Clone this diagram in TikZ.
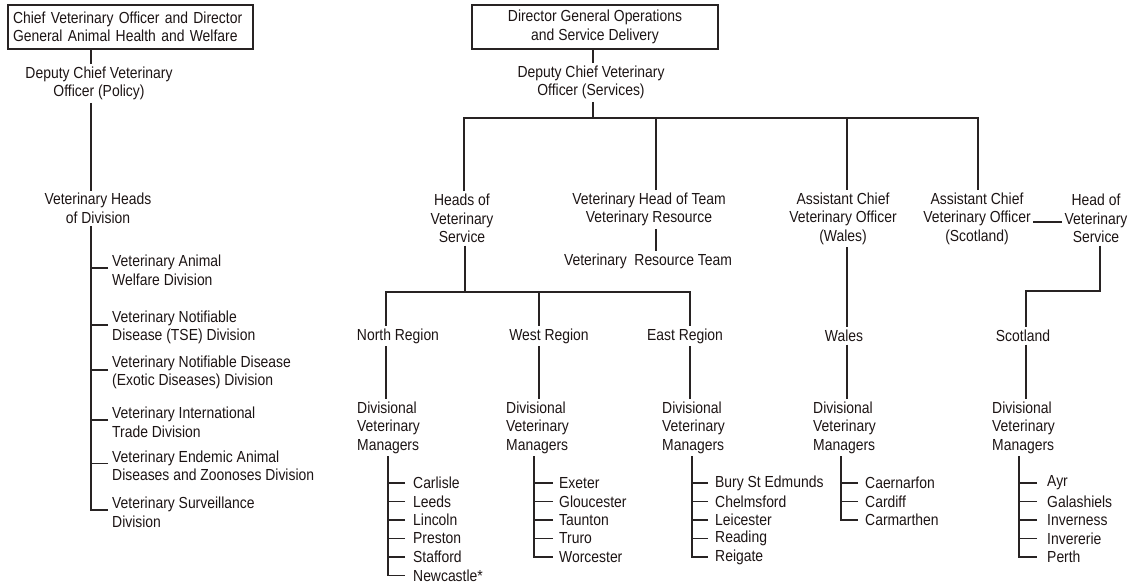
\documentclass[tikz,border=0pt]{standalone}
\usepackage{fontspec}
\setmainfont{Liberation Sans}[FakeStretch=0.87]
\definecolor{txt}{RGB}{28,20,20}
\definecolor{ln}{RGB}{40,35,35}
\begin{document}
\begin{tikzpicture}[x=1pt,y=-1pt]
\tikzset{
  lbl/.style={inner sep=2.5pt, align=center, text=txt, font=\fontsize{16}{18.5}\selectfont},
  lbll/.style={lbl, align=left, anchor=west, inner xsep=0pt},
  bx/.style={lbl, draw=ln, line width=1.2pt, minimum height=44pt},
  conn/.style={draw=ln, line width=1.2pt}
}
\useasboundingbox (0,0) rectangle (1131,587);

% ---------------- left column ----------------
\node[bx, text width=235pt, align=left, inner xsep=5pt] (box1) at (130.5,27) {Chief Veterinary Officer and Director\\General Animal Health and Welfare};
\node[lbl] (dcvoP) at (99,83.5) {Deputy Chief Veterinary\\Officer (Policy)};
\node[lbl] (vhod) at (98,208.5) {Veterinary Heads\\of Division};
\node[lbll] (d1) at (112,270.5) {Veterinary Animal\\Welfare Division};
\node[lbll] (d2) at (112,327.5) {Veterinary Notifiable\\Disease (TSE) Division};
\node[lbll] (d3) at (112,372.5) {Veterinary Notifiable Disease\\(Exotic Diseases) Division};
\node[lbll] (d4) at (112,422.5) {Veterinary International\\Trade Division};
\node[lbll] (d5) at (112,466) {Veterinary Endemic Animal\\Diseases and Zoonoses Division};
\node[lbll] (d6) at (112,512.5) {Veterinary Surveillance\\Division};

\coordinate (xL) at (91,0);
\draw[conn] (box1.south -| xL) -- (dcvoP.north -| xL);
\draw[conn] (dcvoP.south -| xL) -- (vhod.north -| xL);
\draw[conn] (vhod.south -| xL) |- ([yshift=2.5pt,xshift=-4pt]d6.west);
\foreach \n in {d1,d2,d3,d4,d5}
  \draw[conn] ([yshift=2.5pt,xshift=-4pt]\n.west) -- ([yshift=2.5pt]\n.west -| xL);

% ---------------- right part ----------------
\node[bx, minimum width=246pt] (box2) at (595,27) {Director General Operations\\and Service Delivery};
\node[lbl] (dcvoS) at (591,82.5) {Deputy Chief Veterinary\\Officer (Services)};
\node[lbl] (hvs) at (462,218.5) {Heads of\\Veterinary\\Service};
\node[lbl] (vhtr) at (649,209.5) {Veterinary Head of Team\\Veterinary Resource};
\node[lbl] (vrt) at (648,261) {Veterinary\ \ Resource Team};
\node[lbl] (acvoW) at (843,218.5) {Assistant Chief\\Veterinary Officer\\(Wales)};
\node[lbl] (acvoS) at (977,218.5) {Assistant Chief\\Veterinary Officer\\(Scotland)};
\node[lbl] (hvs2) at (1096,218.5) {Head of\\Veterinary\\Service};

\node[lbl] (north) at (398,336) {North Region};
\node[lbl] (west) at (549,336) {West Region};
\node[lbl] (east) at (685,336) {East Region};
\node[lbl] (wales) at (844,336) {Wales};
\node[lbl] (scot) at (1023,336) {Scotland};

\node[lbll] (dvmN) at (357,427.5) {Divisional\\Veterinary\\Managers};
\node[lbll] (dvmW) at (506,427.5) {Divisional\\Veterinary\\Managers};
\node[lbll] (dvmE) at (662,427.5) {Divisional\\Veterinary\\Managers};
\node[lbll] (dvmWa) at (813,427.5) {Divisional\\Veterinary\\Managers};
\node[lbll] (dvmS) at (992,427.5) {Divisional\\Veterinary\\Managers};

% city lists
\foreach \c [count=\i] in {Carlisle,Leeds,Lincoln,Preston,Stafford,Newcastle*}
  \node[lbll] (N\i) at (413,{483+(\i-1)*18.5}) {\c};
\foreach \c [count=\i] in {Exeter,Gloucester,Taunton,Truro,Worcester}
  \node[lbll] (W\i) at (559,{483+(\i-1)*18.5}) {\c};
\foreach \c [count=\i] in {Bury St Edmunds,Chelmsford,Leicester,Reading,Reigate}
  \node[lbll] (E\i) at (715,{483+(\i-1)*18.5}) {\c};
\foreach \c [count=\i] in {Caernarfon,Cardiff,Carmarthen}
  \node[lbll] (C\i) at (865,{483+(\i-1)*18.5}) {\c};
\foreach \c [count=\i] in {Ayr,Galashiels,Inverness,Invererie,Perth}
  \node[lbll] (S\i) at (1047,{483+(\i-1)*18.5}) {\c};

% reference coordinates
\coordinate (xA) at (593,0);
\coordinate (yBar) at (0,118);
\coordinate (xH) at (464,0);
\coordinate (xV) at (656,0);
\coordinate (xW) at (847,0);
\coordinate (xS) at (978,0);
\coordinate (xH2) at (465,0);
\coordinate (yBar2) at (0,292);
\coordinate (xN) at (386,0);
\coordinate (xWe) at (539,0);
\coordinate (xE) at (690,0);
\coordinate (yHS) at (0,222);
\coordinate (xHS) at (1100,0);
\coordinate (yBar3) at (0,291);
\coordinate (xSc) at (1026,0);

\draw[conn] (box2.south -| xA) -- (dcvoS.north -| xA);
\draw[conn] (dcvoS.south -| xA) -- (xA |- yBar);
\draw[conn] (hvs.north -| xH) -- (xH |- yBar) -- (xS |- yBar) -- (acvoS.north -| xS);
\draw[conn] (vhtr.north -| xV) -- (xV |- yBar);
\draw[conn] (acvoW.north -| xW) -- (xW |- yBar);
\draw[conn] (vhtr.south -| xV) -- (vrt.north -| xV);

\draw[conn] (hvs.south -| xH2) -- (xH2 |- yBar2);
\draw[conn] (north.north -| xN) -- (xN |- yBar2) -- (xE |- yBar2) -- (east.north -| xE);
\draw[conn] (west.north -| xWe) -- (xWe |- yBar2);
\draw[conn] (north.south -| xN) -- (dvmN.north -| xN);
\draw[conn] (west.south -| xWe) -- (dvmW.north -| xWe);
\draw[conn] (east.south -| xE) -- (dvmE.north -| xE);

\draw[conn] (acvoW.south -| xW) -- (wales.north -| xW);
\draw[conn] (wales.south -| xW) -- (dvmWa.north -| xW);

\draw[conn] (acvoS.east |- yHS) -- (hvs2.west |- yHS);
\draw[conn] (hvs2.south -| xHS) -- (xHS |- yBar3) -- (xSc |- yBar3) -- (scot.north -| xSc);
\draw[conn] (scot.south -| xSc) -- (dvmS.north -| xSc);

% list spines and ticks
\coordinate (sN) at (388,0);
\draw[conn] (dvmN.south -| sN) |- ([xshift=-8pt]N6.west);
\foreach \i in {1,...,5} \draw[conn] ([xshift=-8pt]N\i.west) -- (N\i.west -| sN);

\coordinate (sW) at (534,0);
\draw[conn] (dvmW.south -| sW) |- ([xshift=-6pt]W5.west);
\foreach \i in {1,...,4} \draw[conn] ([xshift=-6pt]W\i.west) -- (W\i.west -| sW);

\coordinate (sE) at (692,0);
\draw[conn] (dvmE.south -| sE) |- ([xshift=-7pt]E5.west);
\foreach \i in {1,...,4} \draw[conn] ([xshift=-7pt]E\i.west) -- (E\i.west -| sE);

\coordinate (sC) at (841,0);
\draw[conn] (dvmWa.south -| sC) |- ([xshift=-7pt]C3.west);
\foreach \i in {1,2} \draw[conn] ([xshift=-7pt]C\i.west) -- (C\i.west -| sC);

\coordinate (sS) at (1019,0);
\draw[conn] (dvmS.south -| sS) |- ([xshift=-10pt]S5.west);
\foreach \i in {1,...,4} \draw[conn] ([xshift=-10pt]S\i.west) -- (S\i.west -| sS);
\end{tikzpicture}
\end{document}
